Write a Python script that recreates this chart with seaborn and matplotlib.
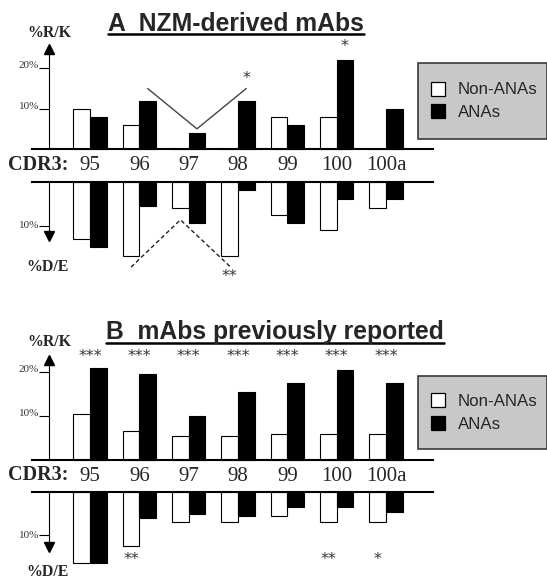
import matplotlib
matplotlib.use("Agg")
import matplotlib.pyplot as plt
from matplotlib.patches import Patch, Rectangle
from matplotlib.lines import Line2D
import pandas as pd
import seaborn as sns

# ---------------------------------------------------------------- data
cdr3 = ["95", "96", "97", "98", "99", "100", "100a"]
groups = ["Non-ANAs", "ANAs"]

# A: NZM-derived mAbs (% of residues at each CDR3 position)
nzm_rk_non = [10, 6, 0, 0, 8, 8, 0]
nzm_rk_ana = [8, 12, 4, 12, 6, 22, 10]
nzm_de_non = [13, 17, 6, 17, 7.5, 11, 6]
nzm_de_ana = [15, 5.5, 9.5, 2, 9.5, 4, 4]

# B: mAbs previously reported
prev_rk_non = [10.5, 6.5, 5.5, 5.5, 6, 6, 6]
prev_rk_ana = [21, 19.5, 10, 15.5, 17.5, 20.5, 17.5]
prev_de_non = [16.5, 12.5, 7, 7, 5.5, 7, 7]
prev_de_ana = [16.5, 6, 5, 5.5, 3.5, 3.5, 4.5]

# significance marks: (position index, bar group, text)
nzm_de_marks = [(3, "Non-ANAs", "**")]
prev_rk_marks = [(i, None, "***") for i in range(len(cdr3))]
prev_de_marks = [(1, "Non-ANAs", "**"), (5, "Non-ANAs", "**"), (6, "Non-ANAs", "*")]

# ---------------------------------------------------------------- style
sns.set_theme(style="white")
SERIF = ["Liberation Serif", "DejaVu Serif"]
SANS = ["Liberation Sans", "DejaVu Sans"]
plt.rcParams["font.family"] = SANS

W_PX, H_PX = 547, 582
fig = plt.figure(figsize=(W_PX / 100, H_PX / 100), dpi=100)
fig.patch.set_facecolor("white")


def fx(px):
    return px / W_PX


def fy(py):
    return 1 - py / H_PX


X0_PX, X1_PX = 31.7, 433.0
CAT0_PX, CAT_STEP_PX = 90.0, 49.33
XLIM = ((X0_PX - CAT0_PX) / CAT_STEP_PX, (X1_PX - CAT0_PX) / CAT_STEP_PX)
SPINE_X = (49.3 - CAT0_PX) / CAT_STEP_PX
BAR_W = 0.67
OFF = BAR_W / 4
PALETTE = {"Non-ANAs": "white", "ANAs": "black"}


def bar_x(i, grp):
    if grp is None:
        return i
    return i - OFF if grp == "Non-ANAs" else i + OFF


def make_axes(edge_px, px_per_unit, span, up):
    h = px_per_unit * span
    bottom_px = edge_px if up else edge_px + h
    return fig.add_axes([fx(X0_PX), fy(bottom_px), (X1_PX - X0_PX) / W_PX, h / H_PX])


def draw_bars(ax, non, ana):
    df = pd.DataFrame({
        "cdr3": cdr3 * 2,
        "group": [groups[0]] * len(cdr3) + [groups[1]] * len(cdr3),
        "pct": list(non) + list(ana),
    })
    sns.barplot(data=df, x="cdr3", y="pct", hue="group", order=cdr3,
                hue_order=groups, palette=PALETTE, saturation=1,
                edgecolor="black", linewidth=0.8, width=BAR_W,
                errorbar=None, legend=False, ax=ax, clip_on=False)
    ax.set_xlabel("")
    ax.set_ylabel("")
    ax.set_xlim(*XLIM)


def style_axis_spine(ax, arrow_y, marker):
    ax.spines["left"].set_position(("data", SPINE_X))
    ax.spines["left"].set_bounds(0, arrow_y)
    ax.spines["left"].set_linewidth(0.8)
    ax.spines["left"].set_color("black")
    ax.plot([SPINE_X], [arrow_y], marker=marker, ms=6.5, color="black",
            clip_on=False, zorder=5)


def style_up(ax, span, arrow_y, ticks):
    ax.set_ylim(0, span)
    for s in ("top", "right"):
        ax.spines[s].set_visible(False)
    ax.spines["bottom"].set_linewidth(1.5)
    ax.spines["bottom"].set_color("black")
    style_axis_spine(ax, arrow_y, "^")
    ax.set_yticks(ticks)
    ax.set_yticklabels([f"{t}%" for t in ticks], va="baseline",
                       family=SERIF, fontsize=8, color="#333333")
    ax.tick_params(axis="y", left=True, length=7, width=0.8, pad=0.5,
                   direction="out", color="black")
    ax.set_xticks(range(len(cdr3)))
    ax.set_xticklabels(cdr3, family=SERIF, fontsize=15)
    ax.tick_params(axis="x", bottom=False, length=0, pad=5)
    ax.patch.set_alpha(0)


def style_down(ax, span, arrow_y, ticks):
    ax.set_ylim(span, 0)
    for s in ("bottom", "right"):
        ax.spines[s].set_visible(False)
    ax.spines["top"].set_linewidth(1.5)
    ax.spines["top"].set_color("black")
    style_axis_spine(ax, arrow_y, "v")
    ax.set_yticks(ticks)
    ax.set_yticklabels([f"{t}%" for t in ticks], va="center",
                       family=SERIF, fontsize=8, color="#333333")
    ax.tick_params(axis="y", left=True, length=7, width=0.8, pad=0.5,
                   direction="out", color="black")
    ax.set_xticks([])
    ax.patch.set_alpha(0)


def add_marks(ax, marks, y):
    for i, grp, txt in marks:
        ax.text(bar_x(i, grp), y, txt, ha="center", va="center",
                family=["DejaVu Sans"], fontsize=11.5, color="#333333",
                clip_on=False)


def add_legend(top_px, bottom_px, row_center_px):
    fig.add_artist(Rectangle((fx(418.3), fy(bottom_px)), (546.7 - 418.3) / W_PX,
                             (bottom_px - top_px) / H_PX,
                             transform=fig.transFigure, facecolor="#c8c8c8",
                             edgecolor="#3a3a3a", linewidth=1.2, zorder=1))
    handles = [Patch(facecolor=PALETTE[g], edgecolor="black", linewidth=0.9)
               for g in groups]
    leg = fig.legend(handles, groups, loc="center left",
                     bbox_to_anchor=(fx(430.7), fy(row_center_px)),
                     frameon=False, borderpad=0, borderaxespad=0,
                     handlelength=0.85, handleheight=0.9, handletextpad=0.75,
                     labelspacing=0.4, prop={"family": SANS, "size": 12.2})
    leg.set_zorder(2)


def side_labels(rk_y, cdr_y, de_y):
    fig.text(fx(49.5), fy(rk_y), "%R/K", family=SERIF, weight="bold",
             fontsize=11.4, ha="center", va="center")
    fig.text(fx(8.3), fy(cdr_y), "CDR3:", family=SERIF, weight="bold",
             fontsize=14.5, ha="left", va="center")
    fig.text(fx(47.2), fy(de_y), "%D/E", family=SERIF, weight="bold",
             fontsize=11.4, ha="center", va="center")


titles = []


def panel_title(text, x_px, baseline_px):
    t = fig.text(fx(x_px), fy(baseline_px), text, family=SANS, weight="bold",
                 fontsize=17.8, ha="left", va="baseline")
    titles.append((t, baseline_px + 3.5))


# ---------------------------------------------------------------- panel A
ax_a_up = make_axes(149.0, 4.035, 25, up=True)
draw_bars(ax_a_up, nzm_rk_non, nzm_rk_ana)
style_up(ax_a_up, 25, 24.8, [10, 20])
ax_a_up.plot([bar_x(i, "ANAs") for i in (1, 2, 3)], [15, 5, 15],
             color="#444444", lw=1.0, clip_on=False)
ax_a_up.text(bar_x(3, "ANAs"), 17.5, "*", ha="center", va="center",
             family=["DejaVu Sans"], fontsize=11.5, color="#333333")
ax_a_up.text(bar_x(5, "ANAs"), 25.4, "*", ha="center", va="center",
             family=["DejaVu Sans"], fontsize=11.5, color="#333333",
             clip_on=False)

ax_a_dn = make_axes(181.7, 4.38, 22, up=False)
draw_bars(ax_a_dn, nzm_de_non, nzm_de_ana)
style_down(ax_a_dn, 22, 12.3, [10])
ax_a_dn.plot([bar_x(i, "Non-ANAs") for i in (1, 2, 3)], [19.5, 8.7, 19.3],
             color="#222222", lw=1.0, ls=(0, (3, 2)), clip_on=False)
add_marks(ax_a_dn, nzm_de_marks, 21.6)

side_labels(33, 164.5, 266.7)
panel_title("A  NZM-derived mAbs", 108, 30.7)
add_legend(63.3, 139.3, 100.8)

# ---------------------------------------------------------------- panel B
ax_b_up = make_axes(460.0, 4.39, 24, up=True)
draw_bars(ax_b_up, prev_rk_non, prev_rk_ana)
style_up(ax_b_up, 24, 22.7, [10, 20])
add_marks(ax_b_up, prev_rk_marks, 23.5)

ax_b_dn = make_axes(492.3, 4.3, 20, up=False)
draw_bars(ax_b_dn, prev_de_non, prev_de_ana)
style_down(ax_b_dn, 20, 12.8, [10])
add_marks(ax_b_dn, prev_de_marks, 15.7)

side_labels(341.7, 475.5, 571.7)
panel_title("B  mAbs previously reported", 106.4, 339.3)
add_legend(376, 449, 412.5)

# underline the panel titles
fig.canvas.draw()
renderer = fig.canvas.get_renderer()
for t, line_px in titles:
    bb = t.get_window_extent(renderer)
    fig.add_artist(Line2D([bb.x0 / W_PX, bb.x1 / W_PX], [fy(line_px)] * 2,
                          transform=fig.transFigure, color="black", lw=1.8))

fig.savefig("out.png", dpi=100)
